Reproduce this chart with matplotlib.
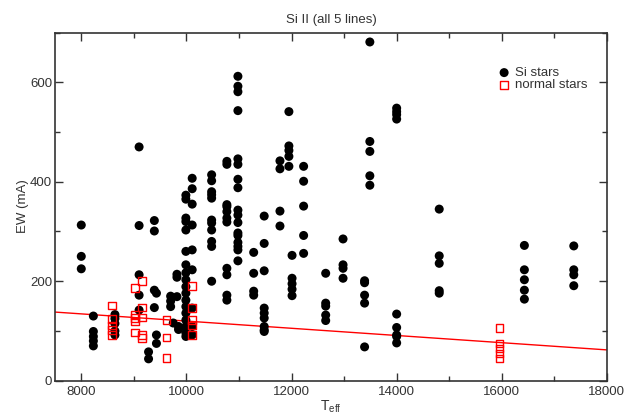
import matplotlib
matplotlib.use("Agg")
import matplotlib.pyplot as plt
import numpy as np
from matplotlib.ticker import MultipleLocator

plt.rcParams['font.family'] = ['Liberation Sans', 'DejaVu Sans']
plt.rcParams['mathtext.fontset'] = 'custom'
plt.rcParams['mathtext.rm'] = 'Liberation Sans'

# Si stars: (Teff, EW), column by column
si_teff = [8000, 8000, 8000,
           8230, 8230, 8230, 8230, 8230,
           8640, 8640, 8640, 8640, 8640,
           9100, 9100, 9100, 9100, 9100,
           9280, 9280,
           9390, 9390, 9390, 9430, 9390, 9430, 9430,
           9700, 9700, 9700, 9750,
           9820, 9820, 9820, 9850, 9850,
           9990, 9990, 9990, 9990, 9990, 9990, 9990, 9990, 9990,
           9990, 9990, 9990, 9990, 9990, 9990, 9990, 9990, 9990,
           10110, 10110, 10110, 10110, 10110, 10110, 10110, 10110, 10110,
           10480, 10480, 10480, 10480, 10480, 10480, 10480, 10480, 10480,
           10480, 10480,
           10770, 10770, 10770, 10770, 10770, 10770, 10770, 10770, 10770,
           10770, 10770,
           10980, 10980, 10980, 10980, 10980, 10980, 10980, 10980, 10980,
           10980, 10980, 10980, 10980, 10980, 10980, 10980, 10980,
           11280, 11280, 11280, 11280,
           11480, 11480, 11480, 11480, 11480, 11480, 11480, 11480, 11480,
           11780, 11780, 11780, 11780,
           11950, 11950, 11950, 11950, 11950,
           12010, 12010, 12010, 12010, 12010,
           12230, 12230, 12230, 12230, 12230,
           12650, 12650, 12650, 12650, 12650,
           12980, 12980, 12980, 12980,
           13390, 13390, 13390, 13390, 13390,
           13490, 13490, 13490, 13490, 13490,
           14000, 14000, 14000, 14000, 14000, 14000, 14000, 14000, 14000,
           14810, 14810, 14810, 14810, 14810,
           16430, 16430, 16430, 16430, 16430,
           17370, 17370, 17370, 17370]
si_ew = [313, 250, 225,
         130, 99, 89, 80, 70,
         133, 125, 115, 100, 92,
         470, 312, 213, 172, 142,
         58, 44,
         322, 301, 182, 176, 147, 92, 75,
         170, 160, 149, 116,
         214, 208, 169, 109, 103,
         373, 365, 327, 320, 303, 260, 233, 217, 203,
         189, 176, 162, 149, 136, 122, 109, 96, 89,
         407, 386, 355, 313, 263, 223, 146, 109, 92,
         414, 402, 380, 374, 367, 323, 317, 303, 280,
         270, 200,
         441, 435, 354, 340, 327, 319, 226, 213, 172,
         162, 350,
         612, 592, 581, 543, 446, 435, 405, 388, 343,
         333, 318, 297, 292, 278, 270, 263, 241,
         258, 216, 180, 172,
         331, 276, 221, 146, 136, 126, 109, 102, 99,
         442, 426, 341, 311,
         541, 472, 463, 451, 431,
         252, 206, 195, 184, 171,
         431, 401, 351, 292, 256,
         216, 156, 150, 132, 121,
         285, 233, 226, 206,
         201, 197, 172, 156, 68,
         681, 481, 461, 412, 393,
         548, 541, 535, 526, 134, 107, 92, 89, 76,
         345, 251, 236, 181, 176,
         272, 223, 203, 182, 164,
         271, 223, 213, 191]

# normal stars
norm_teff = [8580, 8580, 8580, 8580, 8580,
             9020, 9020, 9020, 9020, 9020,
             9160, 9160, 9160, 9160, 9160,
             9620, 9620, 9620,
             10110, 10110, 10110, 10110, 10110,
             15960, 15960, 15960, 15960, 15960]
norm_ew = [151, 124, 111, 102, 92,
           187, 132, 126, 119, 97,
           201, 147, 127, 92, 86,
           122, 87, 46,
           191, 146, 122, 111, 92,
           106, 75, 65, 55, 45]

# linear fit drawn in red: EW = a*Teff + b
fit_coef = [-0.00724, 192.3]
fit_range = [7500, 18000]

fig = plt.figure(figsize=(6.41, 4.17), dpi=100)
ax = fig.add_axes([0.0858, 0.087, 0.861, 0.835])

ax.scatter(si_teff, si_ew, s=42, color='black', edgecolors='none',
           label='Si stars', zorder=3)
ax.scatter(norm_teff, norm_ew, s=30, marker='s', facecolors='none',
           edgecolors='red', linewidths=1.0, label='normal stars', zorder=4)

xf = np.array(fit_range)
ax.plot(xf, np.polyval(fit_coef, xf), color='red', lw=1.0, zorder=2)

ax.set_xlim(7500, 18000)
ax.set_ylim(0, 700)
ax.xaxis.set_major_locator(MultipleLocator(2000))
ax.xaxis.set_minor_locator(MultipleLocator(1000))
ax.yaxis.set_major_locator(MultipleLocator(200))
ax.yaxis.set_minor_locator(MultipleLocator(100))
ax.tick_params(which='both', direction='in', top=True, right=True,
               labelsize=9.5, labelcolor='#333333', color='#333333')
ax.tick_params(which='major', length=6, width=1)
ax.tick_params(which='minor', length=3.5, width=1)
ax.tick_params(axis='y', pad=2)
for sp in ax.spines.values():
    sp.set_color('#333333')
    sp.set_linewidth(1.2)

ax.set_title('Si II (all 5 lines)', fontsize=9.5, color='#333333', pad=7)
ax.set_xlabel(r'T$_{\mathrm{eff}}$', fontsize=10, color='#333333', labelpad=1)
ax.set_ylabel('EW (mA)', fontsize=9.5, color='#333333', labelpad=1)

ax.legend(loc='upper right', bbox_to_anchor=(0.981, 0.928), frameon=False,
          fontsize=9.5, handletextpad=0.3, labelspacing=0.0,
          handlelength=1.0, borderaxespad=0.3, labelcolor='#333333')

fig.savefig('out.png', dpi=100)
